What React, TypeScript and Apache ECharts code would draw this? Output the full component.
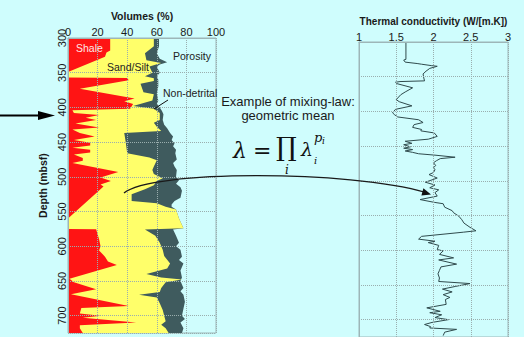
import React, { useEffect, useRef } from "react";
import * as echarts from "echarts";

// ---------- data ----------
const depthMin = 300;
const depthMax = 725;
const volumeTicks = [0, 20, 40, 60, 80, 100];
const conductivityTicks = [1, 1.5, 2, 2.5, 3];

// cumulative volume boundaries: [depth (mbsf), volume %]
const shaleBoundary: [number, number][] = [
  [300, 28.5], [318, 28.5], [321, 26], [327, 25], [349, 0], [357, 0], [357.5, 40], [361, 41],
  [373, 8], [387, 45], [391, 38], [395, 44], [402, 42], [404, 3], [408, 4], [411, 21],
  [415, 12], [418, 19], [423, 5], [429, 21], [432, 3], [437, 8], [442, 18], [447, 4],
  [451, 15], [455, 15], [458, 3], [461, 15], [465, 15], [468, 4], [473, 10], [477, 10],
  [480, 3], [493, 34], [501, 22], [506, 29], [511, 22], [514, 24], [560, 0], [575, 0],
  [575.5, 19], [590, 21], [600, 22], [606, 21], [615, 25], [622, 27], [627, 33], [647, 1],
  [652, 4], [662, 19], [669, 2], [686, 41], [689, 9], [697, 8], [700, 22], [703, 10],
  [710, 46], [714, 8], [718, 8], [725, 10],
];

const sandBoundary: [number, number][] = [
  [300, 58], [312, 58], [322, 52], [332, 53], [336, 63], [341, 55], [350, 57], [355, 52],
  [358, 58], [362, 58], [366, 49], [378, 51], [381, 58], [390, 57], [398, 44], [402, 58],
  [408, 62], [418, 62], [422, 58], [428, 60], [434, 63], [437, 38], [450, 39], [466, 40],
  [472, 55], [476, 60], [485, 58], [490, 57], [496, 58], [502, 64], [506, 60], [512, 58],
  [518, 52], [525, 43], [535, 43], [538, 60], [543, 66], [547, 73], [560, 75], [574, 78],
  [576, 52], [585, 59], [595, 62], [605, 64], [614, 65], [625, 69], [632, 67], [640, 53],
  [645, 63], [648, 77], [652, 66], [660, 63], [666, 62], [670, 48], [674, 60], [682, 62],
  [692, 64], [700, 65], [708, 66], [713, 63], [718, 66], [725, 68],
];

const solidBoundary: [number, number][] = [
  [300, 61.5], [312, 61.5], [322, 60], [330, 62], [335, 67], [338, 62], [341, 60], [350, 62],
  [355, 60], [360, 61], [370, 61], [380, 60], [390, 61], [395, 60], [400, 62], [405, 63.5],
  [410, 64.5], [418, 64], [425, 65], [430, 67], [437, 69], [442, 71], [447, 70], [452, 72],
  [456, 71], [461, 73], [466, 72.5], [475, 73.5], [480, 71], [485, 72], [490, 73.5],
  [500, 73], [505, 75], [510, 73], [515, 76], [520, 77], [530, 76], [535, 72], [540, 70],
  [543, 70], [547, 73], [560, 75], [574, 78], [576, 71], [585, 73], [595, 75], [600, 73],
  [605, 76], [615, 77], [620, 75], [625, 78], [635, 76], [645, 77], [650, 76], [660, 78],
  [665, 76], [670, 78], [680, 79], [690, 78], [700, 77], [705, 79], [710, 76], [718, 78],
  [725, 77],
];

// thermal conductivity: [depth (mbsf), W/(m.K)]
const conductivity: [number, number][] = [
  [300, 1.63], [325, 1.63], [326, 1.6], [329, 1.62], [331, 1.78], [332, 1.84], [334, 1.97],
  [335, 2.05], [338, 1.95], [342, 1.9], [346, 1.86], [352, 1.87], [356, 1.88], [357, 1.55],
  [358, 1.49], [360, 1.51], [366, 1.72], [372, 1.62], [376, 1.56], [383, 1.5], [386, 1.54],
  [392, 1.71], [397, 1.49], [402, 1.45], [405, 1.48], [408, 1.52], [412, 1.8], [416, 1.86],
  [419, 1.74], [423, 1.72], [426, 1.84], [428, 1.83], [431, 2.01], [436, 2.05], [440, 1.93],
  [443, 1.62], [446, 1.71], [448, 1.6], [451, 1.69], [453, 1.6], [455, 1.72], [457, 1.62],
  [459, 1.72], [461, 1.8], [463, 2.02], [466, 2.29], [468, 2.09], [471, 2.04], [474, 2.0],
  [478, 2.03], [481, 2.0], [484, 2.02], [488, 2.0], [491, 1.94], [496, 2.05], [502, 1.89],
  [506, 2.02], [510, 1.95], [513, 2.07], [517, 2.02], [522, 2.05], [527, 1.82], [531, 2.01],
  [533, 2.13], [538, 2.15], [543, 2.25], [546, 2.27], [551, 2.34], [556, 2.38], [561, 2.41],
  [567, 2.49], [572, 2.57], [574, 2.4], [580, 1.84], [584, 1.8], [587, 2.02], [589, 1.93],
  [593, 2.07], [599, 2.05], [601, 2.13], [606, 2.08], [611, 2.27], [614, 2.07], [620, 2.31],
  [624, 2.1], [629, 2.08], [634, 2.06], [640, 2.08], [645, 2.07], [648, 2.49], [652, 2.3],
  [656, 2.12], [660, 2.25], [664, 2.13], [668, 2.22], [671, 2.16], [678, 2.17], [683, 1.91],
  [688, 2.09], [690, 1.95], [693, 2.11], [697, 2.02], [700, 2.2], [704, 1.98], [707, 1.88],
  [710, 1.96], [712, 1.95], [714, 2.31], [718, 2.15], [723, 2.13],
];

// ---------- styles ----------
const BG = "#cffdfd";
const RED = "#ff1414";
const YELLOW = "#ffff6a";
const GRAY = "#3f5b5e";
const FRAME = "#9db6b8";
const GRID = "#9aaeae";
const TXT = "#1a1a1a";
const FONT = "Liberation Sans, Arial, sans-serif";
const SERIF = "DejaVu Serif, Liberation Serif, serif";

export default function App() {
  const ref = useRef<HTMLDivElement>(null);

  useEffect(() => {
    const chart = echarts.init(ref.current!, null, { renderer: "svg" });

    const poly = (api: any, b: [number, number][]) => {
      const pts: number[][] = [api.coord([0, depthMin])];
      b.forEach(([d, v]) => pts.push(api.coord([v, d])));
      pts.push(api.coord([0, depthMax]));
      return pts;
    };

    const axisLbl = { fontSize: 11, color: TXT, fontFamily: FONT };
    const nameStyle = { fontSize: 10.5, fontWeight: "bold", color: TXT, fontFamily: FONT };
    const split = { show: true, lineStyle: { type: "dotted", color: GRID, width: 1 } };

    chart.setOption({
      animation: false,
      backgroundColor: BG,
      grid: [
        { left: 68, top: 38, width: 148, height: 295, show: true, borderColor: FRAME, borderWidth: 1 },
        { left: 359, top: 42, width: 149, height: 295, show: true, borderColor: FRAME, borderWidth: 1 },
      ],
      xAxis: [
        {
          gridIndex: 0, type: "value", position: "top", min: volumeTicks[0],
          max: volumeTicks[volumeTicks.length - 1], interval: 20,
          name: "Volumes (%)", nameLocation: "middle", nameGap: 17, nameTextStyle: nameStyle,
          axisLine: { show: true, lineStyle: { color: FRAME } }, axisTick: { show: false },
          axisLabel: { ...axisLbl, margin: 1 }, splitLine: split, z: 5,
        },
        {
          gridIndex: 1, type: "value", position: "top", min: conductivityTicks[0],
          max: conductivityTicks[conductivityTicks.length - 1], interval: 0.5,
          name: "Thermal conductivity (W/[m.K])", nameLocation: "middle", nameGap: 15,
          nameTextStyle: { ...nameStyle, fontSize: 10 },
          axisLine: { show: true, lineStyle: { color: FRAME } }, axisTick: { show: false },
          axisLabel: { ...axisLbl, margin: 0 }, splitLine: split, z: 5,
        },
      ],
      yAxis: [
        {
          gridIndex: 0, type: "value", inverse: true, min: depthMin, max: depthMax, interval: 50,
          name: "Depth (mbsf)", nameLocation: "middle", nameGap: 20, nameRotate: 90,
          nameTextStyle: nameStyle,
          axisLine: { show: true, lineStyle: { color: FRAME } }, axisTick: { show: false },
          axisLabel: {
            ...axisLbl, rotate: 90, margin: 1,
            formatter: (v: number) => (v % 50 === 0 ? String(v) : ""),
          },
          splitLine: split, z: 5,
        },
        {
          gridIndex: 1, type: "value", inverse: true, min: depthMin, max: depthMax, interval: 50,
          axisLine: { show: true, lineStyle: { color: FRAME } }, axisTick: { show: false },
          axisLabel: { show: false }, splitLine: split, z: 5,
        },
      ],
      series: [
        {
          type: "custom", xAxisIndex: 0, yAxisIndex: 0, silent: true,
          data: [[0, depthMin]],
          renderItem: (_p: any, api: any) => ({
            type: "group",
            children: [
              { type: "polygon", shape: { points: poly(api, solidBoundary) }, style: { fill: GRAY } },
              { type: "polygon", shape: { points: poly(api, sandBoundary) }, style: { fill: YELLOW } },
              { type: "polygon", shape: { points: poly(api, shaleBoundary) }, style: { fill: RED } },
            ],
          }),
          z: 2,
        },
        {
          type: "line", xAxisIndex: 1, yAxisIndex: 1, silent: true, showSymbol: false,
          data: conductivity.map(([d, k]) => [k, d]),
          lineStyle: { color: "#2f4a4c", width: 1 },
          z: 3,
        },
      ],
      graphic: [
        // left arrow
        { type: "line", shape: { x1: 0, y1: 115.5, x2: 42, y2: 115.5 }, style: { stroke: "#000", lineWidth: 2 } },
        { type: "polygon", shape: { points: [[38, 111], [55, 115.5], [38, 120]] }, style: { fill: "#000" } },
        // labels
        { type: "text", x: 76, y: 48, style: { text: "Shale", fill: "#ffe6e6", font: `10.5px ${FONT}`, verticalAlign: "middle" }, z: 10 },
        { type: "text", x: 107, y: 67, style: { text: "Sand/Silt", fill: "#222", font: `10.5px ${FONT}`, verticalAlign: "middle" }, z: 10 },
        { type: "text", x: 173, y: 56, style: { text: "Porosity", fill: "#222", font: `10.5px ${FONT}`, verticalAlign: "middle" }, z: 10 },
        { type: "text", x: 163, y: 93, style: { text: "Non-detrital", fill: "#222", font: `10.5px ${FONT}`, verticalAlign: "middle" }, z: 10 },
        { type: "line", shape: { x1: 168, y1: 100, x2: 154, y2: 109 }, style: { stroke: "#111", lineWidth: 1 }, z: 10 },
        // mixing law text
        { type: "text", x: 288, y: 101, style: { text: "Example of mixing-law:", fill: "#1a1a1a", font: `13px ${FONT}`, align: "center", verticalAlign: "middle" }, z: 10 },
        { type: "text", x: 288, y: 115, style: { text: "geometric mean", fill: "#1a1a1a", font: `13px ${FONT}`, align: "center", verticalAlign: "middle" }, z: 10 },
        // formula
        { type: "text", x: 233, y: 150, style: { text: "λ", fill: "#111", font: `italic 22px ${SERIF}`, verticalAlign: "middle" }, z: 10 },
        { type: "text", x: 253, y: 150, style: { text: "=", fill: "#111", font: `22px ${SERIF}`, verticalAlign: "middle" }, z: 10 },
        { type: "text", x: 276, y: 147, style: { text: "∏", fill: "#111", font: `26px ${SERIF}`, verticalAlign: "middle" }, z: 10 },
        { type: "text", x: 285, y: 170, style: { text: "i", fill: "#111", font: `italic 12px ${SERIF}`, verticalAlign: "middle" }, z: 10 },
        { type: "text", x: 301, y: 149, style: { text: "λ", fill: "#111", font: `italic 19px ${SERIF}`, verticalAlign: "middle" }, z: 10 },
        { type: "text", x: 314, y: 160, style: { text: "i", fill: "#111", font: `italic 10px ${SERIF}`, verticalAlign: "middle" }, z: 10 },
        { type: "text", x: 314, y: 137, style: { text: "p", fill: "#111", font: `italic 13px ${SERIF}`, verticalAlign: "middle" }, z: 10 },
        { type: "text", x: 322, y: 141, style: { text: "i", fill: "#111", font: `italic 9px ${SERIF}`, verticalAlign: "middle" }, z: 10 },
        // curved arrow
        {
          type: "bezierCurve",
          shape: { x1: 124, y1: 193, cpx1: 150, cpy1: 170, cpx2: 350, cpy2: 170, x2: 426, y2: 192.5 },
          style: { stroke: "#1a1a1a", lineWidth: 1.3, fill: "none" }, z: 10,
        },
        { type: "polygon", shape: { points: [[431, 194.5], [423.4, 188.3], [421.4, 195.5]] }, style: { fill: "#111" }, z: 10 },
      ],
    });

    return () => chart.dispose();
  }, []);

  return (
    <div
      ref={ref}
      style={{ position: "fixed", left: 0, top: 0, width: 524, height: 337, background: BG }}
    />
  );
}
